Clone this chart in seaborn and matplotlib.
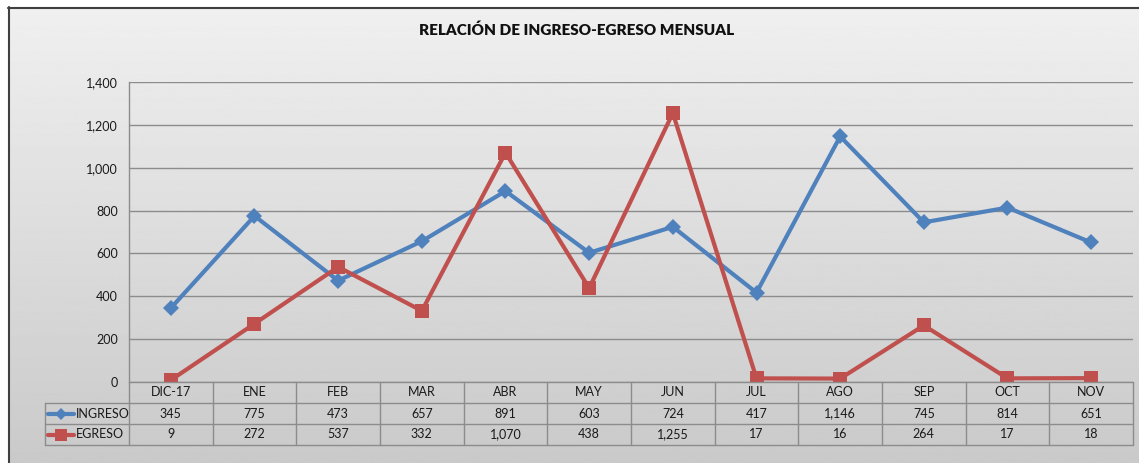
import numpy as np
import pandas as pd
import matplotlib
matplotlib.use("Agg")
import matplotlib.pyplot as plt
import seaborn as sns
from matplotlib.lines import Line2D

# Data
meses = ["DIC-17", "ENE", "FEB", "MAR", "ABR", "MAY", "JUN", "JUL", "AGO", "SEP", "OCT", "NOV"]
ingreso = [345, 775, 473, 657, 891, 603, 724, 417, 1146, 745, 814, 651]
egreso = [9, 272, 537, 332, 1070, 438, 1255, 17, 16, 264, 17, 18]

df = pd.DataFrame({"mes": meses, "INGRESO": ingreso, "EGRESO": egreso})
df["pos"] = np.arange(len(meses))
long_df = df.melt(id_vars=["mes", "pos"], value_vars=["INGRESO", "EGRESO"],
                  var_name="serie", value_name="valor")

AZUL = "#4F81BD"
ROJO = "#C0504D"
GRIS = "#8c8c8c"
TXT = "#1a1a1a"
FS = 9

sns.set_style("white")
plt.rcParams["font.family"] = ["Lato", "DejaVu Sans"]

W, H = 1139, 463
fig = plt.figure(figsize=(W / 100, H / 100), dpi=100)
fig.patch.set_facecolor("white")

# gradient background of the chart area
bg = fig.add_axes([8 / W, 0, 1 - 8 / W, 1 - 7 / H], zorder=-10)
grad = np.linspace(0.94, 0.79, 256).reshape(-1, 1)
bg.imshow(grad, cmap="gray", vmin=0, vmax=1, aspect="auto", extent=[0, 1, 0, 1])
bg.set_xlim(0, 1)
bg.set_ylim(0, 1)
bg.axis("off")
fig.add_artist(Line2D([8.5 / W, 8.5 / W], [0, 1 - 7 / H], color="#404040", lw=1.5))
fig.add_artist(Line2D([8 / W, 1], [1 - 7.5 / H, 1 - 7.5 / H], color="#404040", lw=1.5))

left, right = 129, 1133
top, bottom = 82, 382
ax = fig.add_axes([left / W, (H - bottom) / H, (right - left) / W, (bottom - top) / H])
ax.set_facecolor("none")

sns.lineplot(data=long_df, x="pos", y="valor", hue="serie", style="serie",
             markers={"INGRESO": "D", "EGRESO": "s"}, dashes=False,
             palette={"INGRESO": AZUL, "EGRESO": ROJO},
             markersize=9, markeredgewidth=0, linewidth=3, legend=False, ax=ax)
for ln in ax.lines:
    if ln.get_marker() == "D":
        ln.set_markersize(8)
    else:
        ln.set_markersize(10)

ax.set_xlim(-0.5, len(meses) - 0.5)
ax.set_ylim(0, 1400)
ax.set_yticks(range(0, 1401, 200))
ax.set_yticklabels([f"{v:,}" for v in range(0, 1401, 200)], fontsize=FS, color=TXT)
ax.set_xticks([])
ax.set_xlabel("")
ax.set_ylabel("")
ax.grid(axis="y", color=GRIS, lw=1)
ax.set_axisbelow(True)
for s in ["top", "right", "bottom"]:
    ax.spines[s].set_visible(False)
ax.spines["left"].set_color(GRIS)
ax.spines["left"].set_linewidth(1)
ax.tick_params(axis="y", length=4, color=GRIS, width=1, pad=4)

fig.text(577 / W, 1 - 30 / H, "RELACIÓN DE INGRESO-EGRESO MENSUAL",
         ha="center", va="center", fontsize=11, fontweight="heavy", color="#111111")

# data table below the axis
row_h = 21 / (bottom - top)
tr = ax.get_xaxis_transform()
n = len(meses)
unit = (right - left) / n
label_left = -0.5 - (left - 45) / unit
line_kw = dict(color=GRIS, lw=1, transform=tr, clip_on=False)

# horizontal lines
ax.plot([-0.5, n - 0.5], [0, 0], **line_kw)
for k in (1, 2, 3):
    ax.plot([label_left, n - 0.5], [-k * row_h, -k * row_h], **line_kw)
# vertical lines
for i in range(n + 1):
    ax.plot([i - 0.5, i - 0.5], [0, -3 * row_h], **line_kw)
ax.plot([label_left, label_left], [-row_h, -3 * row_h], **line_kw)

for i, m in enumerate(meses):
    ax.text(i, -0.5 * row_h, m, ha="center", va="center", fontsize=FS, transform=tr, color=TXT)
    ax.text(i, -1.5 * row_h, f"{ingreso[i]:,}", ha="center", va="center", fontsize=FS, transform=tr, color=TXT)
    ax.text(i, -2.5 * row_h, f"{egreso[i]:,}", ha="center", va="center", fontsize=FS, transform=tr, color=TXT)

# legend keys in the row-label column
for k, (name, col, mk, ms) in enumerate([("INGRESO", AZUL, "D", 6), ("EGRESO", ROJO, "s", 8)]):
    yc = -(1.5 + k) * row_h
    x0 = label_left + 3 / unit
    x1 = label_left + 29 / unit
    ax.add_line(Line2D([x0, x1], [yc, yc], color=col, lw=3, transform=tr, clip_on=False))
    ax.add_line(Line2D([(x0 + x1) / 2], [yc], color=col, marker=mk, markersize=ms,
                       markeredgewidth=0, transform=tr, clip_on=False))
    ax.text(x1 + 1.5 / unit, yc, name, ha="left", va="center", fontsize=FS, transform=tr, color=TXT)

fig.savefig("out.png", dpi=100)
